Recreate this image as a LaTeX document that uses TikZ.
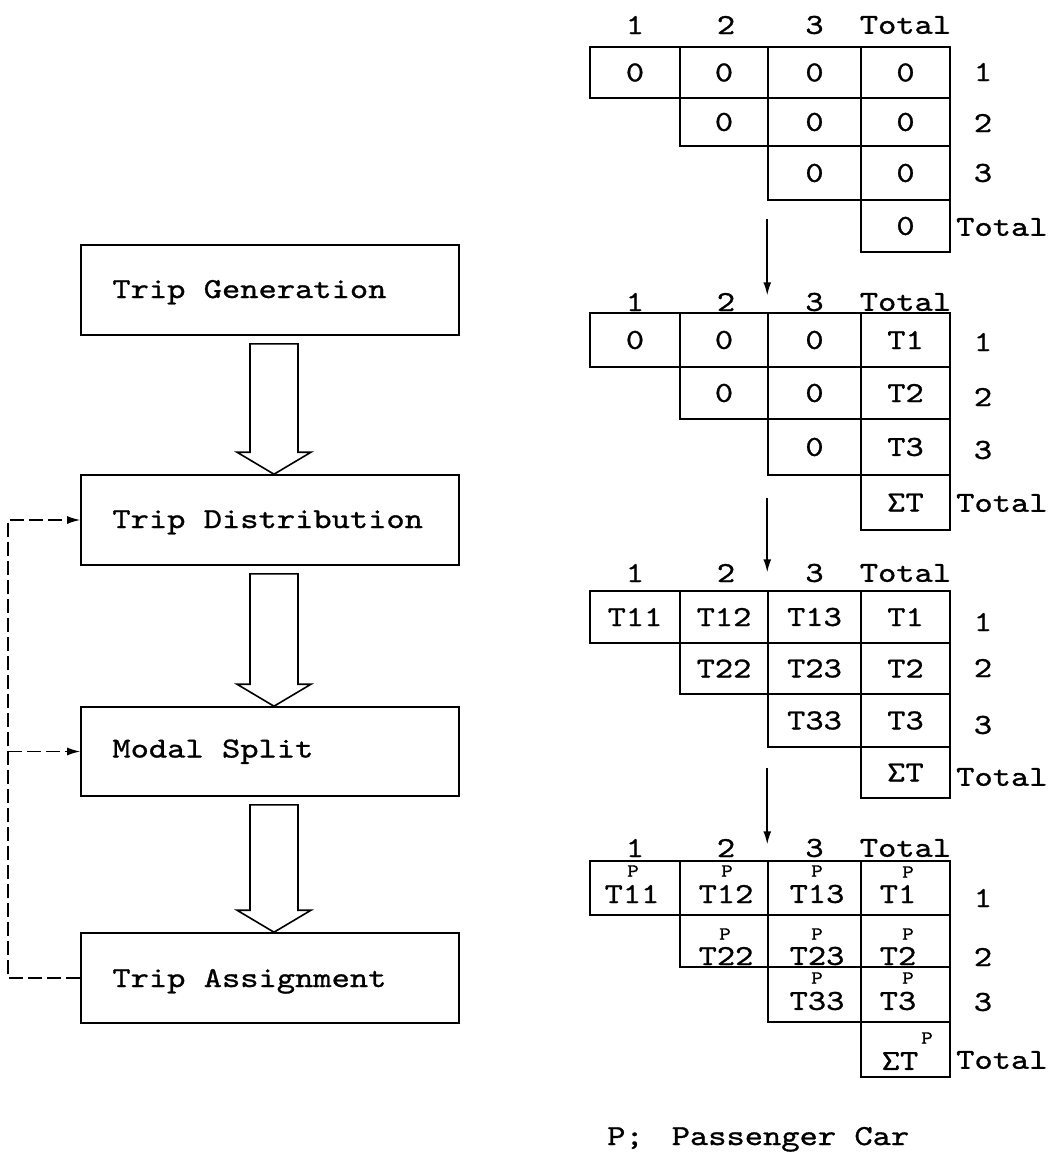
\documentclass[tikz,border=0pt]{standalone}
\usepackage{fontspec}
\usetikzlibrary{arrows.meta,calc}
\newfontfamily\tw{lmmono10-regular.otf}[FakeStretch=1.2,FakeBold=1]
\tikzset{
 big/.style={font=\fontsize{29}{29}\selectfont\tw, inner sep=0pt},
 small/.style={font=\fontsize{18.5}{18.5}\selectfont\tw, inner sep=0pt},
 box/.style={draw, line width=1.6pt, minimum width=378pt, minimum height=90pt, inner sep=0pt},
 cell/.style={draw, line width=1.5pt, inner sep=0pt, big},
 colA/.style={minimum width=90pt},
 colB/.style={minimum width=88pt},
 colC/.style={minimum width=93pt},
 colD/.style={minimum width=89pt},
 harrow/.style={draw, line width=1.6pt, line join=miter},
 tarrow/.style={line width=1.6pt, -{Latex[length=13pt,width=8pt]}},
 fbarrow/.style={line width=1.5pt, dash pattern=on 14pt off 5pt, -{Latex[length=13pt,width=8pt]}},
}
\newcommand\hollowarrow[2]{%
 \draw[harrow] ($(#1.south)+(-20,8)$) -- ($(#2.north)+(-20,-22)$) -- ($(#2.north)+(-33,-22)$)
  -- ($(#2.north)+(4,0)$) -- ($(#2.north)+(41,-22)$) -- ($(#2.north)+(28,-22)$)
  -- ($(#1.south)+(28,8)$) -- cycle;}
\begin{document}
\begin{tikzpicture}[x=1pt,y=-1pt]
\useasboundingbox (0,0) rectangle (1052,1154);
% ---------- left flow ----------
\node[box] (gen) at (270,290) {};
\node[box] (dist) at (270,520) {};
\node[box, minimum height=89pt] (modal) at (270,751.5) {};
\node[box] (assign) at (270,978) {};
\node[big, anchor=base west] (gen-t) at ($(gen.west)+(32,8)$) {Trip Generation};
\node[big, anchor=base west] (dist-t) at ($(dist.west)+(32,8)$) {Trip Distribution};
\node[big, anchor=base west] (modal-t) at ($(modal.west)+(32,6)$) {Modal Split};
\node[big, anchor=base west] (assign-t) at ($(assign.west)+(32,9)$) {Trip Assignment};
\hollowarrow{gen}{dist}
\hollowarrow{dist}{modal}
\hollowarrow{modal}{assign}
\coordinate (fbx) at (8,0);
\draw[fbarrow] (assign.west) -- (assign.west -| fbx) -- (dist.west -| fbx) -- (dist.west);
\draw[fbarrow] (modal.west -| fbx) -- (modal.west);
% ---------- table A ----------
\foreach \n/\x/\t in {Ah1/635/1, Ah2/726/2, Ah3/814.5/3} \node[big] (\n) at (\x,25) {\t};
\node[big] (Ah4) at (905.5,25) {Total};
\node[cell,colA,minimum height=51pt] (A11) at (635,72.5) {0};
\node[cell,colB,minimum height=51pt] (A12) at (724,72.5) {0};
\node[cell,colC,minimum height=51pt] (A13) at (814.5,72.5) {0};
\node[cell,colD,minimum height=51pt] (A14) at (905.5,72.5) {0};
\node[cell,colB,minimum height=48pt] (A22) at (724,122) {0};
\node[cell,colC,minimum height=48pt] (A23) at (814.5,122) {0};
\node[cell,colD,minimum height=48pt] (A24) at (905.5,122) {0};
\node[cell,colC,minimum height=54pt] (A33) at (814.5,173) {0};
\node[cell,colD,minimum height=54pt] (A34) at (905.5,173) {0};
\node[cell,colD,minimum height=52pt] (A44) at (905.5,226) {0};
\node[big] (Ar1) at (983,72) {1};
\node[big] (Ar2) at (983,123) {2};
\node[big] (Ar3) at (983,173) {3};
\node[big, anchor=west] (Ar4) at (956,227) {Total};
% ---------- table B ----------
\foreach \n/\x/\t in {Bh1/635/1, Bh2/726/2, Bh3/814.5/3} \node[big] (\n) at (\x,302) {\t};
\node[big] (Bh4) at (905.5,302) {Total};
\node[cell,colA,minimum height=54pt] (B11) at (635,340) {0};
\node[cell,colB,minimum height=54pt] (B12) at (724,340) {0};
\node[cell,colC,minimum height=54pt] (B13) at (814.5,340) {0};
\node[cell,colD,minimum height=54pt] (B14) at (905.5,340) {T1};
\node[cell,colB,minimum height=52pt] (B22) at (724,393) {0};
\node[cell,colC,minimum height=52pt] (B23) at (814.5,393) {0};
\node[cell,colD,minimum height=52pt] (B24) at (905.5,393) {T2};
\node[cell,colC,minimum height=56pt] (B33) at (814.5,447) {0};
\node[cell,colD,minimum height=56pt] (B34) at (905.5,447) {T3};
\node[cell,colD,minimum height=55pt] (B44) at (905.5,502.5) {ΣT};
\node[big] (Br1) at (983,342) {1};
\node[big] (Br2) at (983,397) {2};
\node[big] (Br3) at (983,450) {3};
\node[big, anchor=west] (Br4) at (956,503) {Total};
% ---------- table C ----------
\foreach \n/\x/\t in {Ch1/635/1, Ch2/726/2, Ch3/814.5/3} \node[big] (\n) at (\x,573) {\t};
\node[big] (Ch4) at (905.5,573) {Total};
\node[cell,colA,minimum height=52pt] (C11) at (635,617) {T11};
\node[cell,colB,minimum height=52pt] (C12) at (724,617) {T12};
\node[cell,colC,minimum height=52pt] (C13) at (814.5,617) {T13};
\node[cell,colD,minimum height=52pt] (C14) at (905.5,617) {T1};
\node[cell,colB,minimum height=51pt] (C22) at (724,668.5) {T22};
\node[cell,colC,minimum height=51pt] (C23) at (814.5,668.5) {T23};
\node[cell,colD,minimum height=51pt] (C24) at (905.5,668.5) {T2};
\node[cell,colC,minimum height=53pt] (C33) at (814.5,720.5) {T33};
\node[cell,colD,minimum height=53pt] (C34) at (905.5,720.5) {T3};
\node[cell,colD,minimum height=51pt] (C44) at (905.5,772.5) {ΣT};
\node[big] (Cr1) at (983,622) {1};
\node[big] (Cr2) at (983,668) {2};
\node[big] (Cr3) at (983,725) {3};
\node[big, anchor=west] (Cr4) at (956,777) {Total};
% ---------- table D ----------
\foreach \n/\x/\t in {Dh1/635/1, Dh2/726/2, Dh3/814.5/3} \node[big] (\n) at (\x,848) {\t};
\node[big] (Dh4) at (905.5,848) {Total};
\node[cell,colA,minimum height=54pt] (D11) at (635,888) {};
\node[cell,colB,minimum height=54pt] (D12) at (724,888) {};
\node[cell,colC,minimum height=54pt] (D13) at (814.5,888) {};
\node[cell,colD,minimum height=54pt] (D14) at (905.5,888) {};
\node[cell,colB,minimum height=52pt] (D22) at (724,941) {};
\node[cell,colC,minimum height=52pt] (D23) at (814.5,941) {};
\node[cell,colD,minimum height=52pt] (D24) at (905.5,941) {};
\node[cell,colC,minimum height=55pt] (D33) at (814.5,994.5) {};
\node[cell,colD,minimum height=55pt] (D34) at (905.5,994.5) {};
\node[cell,colD,minimum height=55pt] (D44) at (905.5,1049.5) {};
\node[big] (D11t) at (632,894) {T11};
\node[big] (D12t) at (726,894) {T12};
\node[big] (D13t) at (817,894) {T13};
\node[big] (D14t) at (898,894) {T1};
\node[big] (D22t) at (726,956) {T22};
\node[big] (D23t) at (817,956) {T23};
\node[big] (D24t) at (898,956) {T2};
\node[big] (D33t) at (817,1001) {T33};
\node[big] (D34t) at (898,1001) {T3};
\node[big] (D44t) at (900,1061) {ΣT};
\node[small] (D11p) at (633,871) {P};
\node[small] (D12p) at (727,871) {P};
\node[small] (D13p) at (817,871) {P};
\node[small] (D14p) at (908,872) {P};
\node[small] (D22p) at (725,934) {P};
\node[small] (D23p) at (817,934) {P};
\node[small] (D24p) at (908,934) {P};
\node[small] (D33p) at (817,978) {P};
\node[small] (D34p) at (908,978) {P};
\node[small] (D44p) at (927,1038) {P};
\node[big] (Dr1) at (983,898) {1};
\node[big] (Dr2) at (983,957) {2};
\node[big] (Dr3) at (983,1002) {3};
\node[big, anchor=west] (Dr4) at (956,1060) {Total};
% ---------- arrows between tables ----------
\draw[tarrow] ($(A33.south west)+(0,18)$) -- ($(B13.north west)+(0,-17)$);
\draw[tarrow] ($(B33.south west)+(0,22)$) -- ($(C13.north west)+(0,-18)$);
\draw[tarrow] ($(C33.south west)+(0,20)$) -- ($(D13.north west)+(0,-16)$);
% ---------- legend ----------
\node[big, anchor=base west] (legend) at (607,1145) {P;\hspace{28pt}Passenger Car};
\end{tikzpicture}
\end{document}
